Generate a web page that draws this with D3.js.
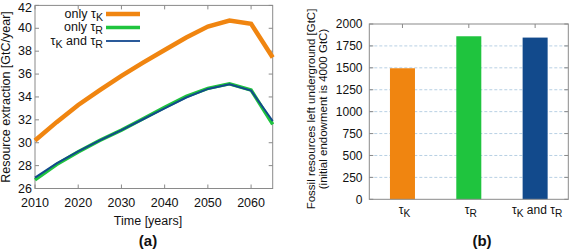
<!DOCTYPE html>
<html><head><meta charset="utf-8">
<script src="https://cdn.jsdelivr.net/npm/d3@7"></script>
<style>body{margin:0;background:#fff}svg{display:block;font-family:"Liberation Sans",Arial,sans-serif}</style>
</head><body><svg id="c" width="570" height="251"></svg>
<script>
const years = [2010,2015,2020,2025,2030,2035,2040,2045,2050,2055,2060,2065];
const onlyK = [30.2,31.8,33.3,34.6,35.85,37.0,38.1,39.2,40.15,40.68,40.4,37.45];
const onlyR = [26.75,28.1,29.2,30.2,31.1,32.1,33.1,34.05,34.75,35.15,34.6,31.6];
const bothKR = [26.95,28.2,29.25,30.2,31.1,32.05,33.0,33.95,34.7,35.1,34.55,31.9];
const yTicksA = [26,28,30,32,34,36,38,40,42];
const xTicksA = [2010,2020,2030,2040,2050,2060];
const barCats = ["K","R","KR"];
const barVals = [1495,1860,1845];
const yTicksB = [0,250,500,750,1000,1250,1500,1750,2000];
const colOrange = "#f08510", colGreen = "#1fc43e", colBlue = "#124a8c";

const svg = d3.select("#c");
const border = "#8a8a8a";

// ---------- Panel (a)
const xA = d3.scaleLinear().domain([2010,2065]).range([35,272.7]);
const yA = d3.scaleLinear().domain([26,42]).range([188.5,5.4]);
const gA = svg.append("g");
gA.append("rect").attr("x",xA(2010)).attr("y",yA(42)).attr("width",xA(2065)-xA(2010)).attr("height",yA(26)-yA(42))
  .attr("fill","none").attr("stroke",border).attr("stroke-width",1);
xTicksA.forEach(t=>{
  gA.append("line").attr("x1",xA(t)).attr("x2",xA(t)).attr("y1",yA(26)).attr("y2",yA(26)-4).attr("stroke",border);
  gA.append("line").attr("x1",xA(t)).attr("x2",xA(t)).attr("y1",yA(42)).attr("y2",yA(42)+4).attr("stroke",border);
  gA.append("text").attr("x",xA(t)).attr("y",206.5).attr("text-anchor","middle").attr("font-size",12.5).attr("fill","#111").text(t);
});
yTicksA.forEach(t=>{
  gA.append("line").attr("x1",xA(2010)).attr("x2",xA(2010)+4).attr("y1",yA(t)).attr("y2",yA(t)).attr("stroke",border);
  gA.append("line").attr("x1",xA(2065)).attr("x2",xA(2065)-4).attr("y1",yA(t)).attr("y2",yA(t)).attr("stroke",border);
  gA.append("text").attr("x",xA(2010)-3).attr("y",Math.max(yA(t)+4,11.5)).attr("text-anchor","end").attr("font-size",12.5).attr("fill","#111").text(t);
});
const line = d3.line().x((d,i)=>xA(years[i])).y(d=>yA(d));
gA.append("path").datum(onlyK).attr("d",line).attr("fill","none").attr("stroke",colOrange).attr("stroke-width",4.5);
gA.append("path").datum(onlyR).attr("d",line).attr("fill","none").attr("stroke",colGreen).attr("stroke-width",3.5);
gA.append("path").datum(bothKR).attr("d",line).attr("fill","none").attr("stroke",colBlue).attr("stroke-width",2);

function tauText(g, x, y, parts, anchor, size){
  const t = g.append("text").attr("x",x).attr("y",y).attr("text-anchor",anchor).attr("font-size",size).attr("fill","#111");
  parts.forEach(p=>{
    const s = t.append("tspan").text(p.t);
    if(p.sub){ s.attr("baseline-shift","-25%").attr("font-size",size*0.85); }
  });
  return t;
}
const leg = [
  {parts:[{t:"only τ"},{t:"K",sub:1}], c:colOrange, w:4.5},
  {parts:[{t:"only τ"},{t:"R",sub:1}], c:colGreen, w:3.5},
  {parts:[{t:"τ"},{t:"K",sub:1},{t:" and τ"},{t:"R",sub:1}], c:"#2a5a9a", w:2}
];
leg.forEach((l,i)=>{
  const y = 14 + i*13.5;
  tauText(gA, 103, y+3.5, l.parts, "end", 12.5);
  gA.append("line").attr("x1",106).attr("x2",140).attr("y1",y).attr("y2",y).attr("stroke",l.c).attr("stroke-width",l.w);
});
gA.append("text").attr("transform","translate(10,97) rotate(-90)").attr("text-anchor","middle").attr("font-size",12.5).attr("fill","#111").text("Resource extraction [GtC/year]");
gA.append("text").attr("x",148).attr("y",224.5).attr("text-anchor","middle").attr("font-size",12.5).attr("fill","#111").text("Time [years]");
gA.append("text").attr("x",148).attr("y",246).attr("text-anchor","middle").attr("font-size",15).attr("font-weight","bold").attr("fill","#111").text("(a)");

// ---------- Panel (b)
const xB = d3.scalePoint().domain(barCats).range([369.3,568.3]).padding(0.5);
const yB = d3.scaleLinear().domain([0,2000]).range([199.3,24]);
const gB = svg.append("g");
const bw = xB.step()*0.377;
yTicksB.forEach(t=>{
  if(t>0 && t<2000) gB.append("line").attr("x1",369.3).attr("x2",568.3).attr("y1",yB(t)).attr("y2",yB(t))
    .attr("stroke","#b8d0e4").attr("stroke-width",1).attr("stroke-dasharray","3,2");
  gB.append("line").attr("x1",568.3).attr("x2",564.3).attr("y1",yB(t)).attr("y2",yB(t)).attr("stroke",border);
  gB.append("line").attr("x1",369.3).attr("x2",373.3).attr("y1",yB(t)).attr("y2",yB(t)).attr("stroke",border);
  gB.append("text").attr("x",362.5).attr("y",yB(t)+4.3).attr("text-anchor","end").attr("font-size",12).attr("fill","#111").text(t);
});
const barCols = [colOrange,colGreen,colBlue];
gB.selectAll("rect.bar").data(barVals).join("rect").attr("class","bar")
  .attr("x",(d,i)=>xB(barCats[i])-bw/2).attr("width",bw)
  .attr("y",d=>yB(d)).attr("height",d=>yB(0)-yB(d)).attr("fill",(d,i)=>barCols[i]);
gB.append("rect").attr("x",369.3).attr("y",24).attr("width",199).attr("height",175.3).attr("fill","none").attr("stroke",border);
barCats.forEach(c=>{
  gB.append("line").attr("x1",xB(c)).attr("x2",xB(c)).attr("y1",24).attr("y2",28).attr("stroke",border);
});
const catParts = {
  K:[{t:"τ"},{t:"K",sub:1}],
  R:[{t:"τ"},{t:"R",sub:1}],
  KR:[{t:"τ"},{t:"K",sub:1},{t:" and τ"},{t:"R",sub:1}]
};
barCats.forEach(c=>{
  tauText(gB, xB(c)+2, 214, catParts[c], "middle", 12);
});
gB.append("text").attr("transform","translate(315,109) rotate(-90)").attr("text-anchor","middle").attr("font-size",11.5).attr("fill","#111").text("Fossil resources left underground [GtC]");
gB.append("text").attr("transform","translate(327,109) rotate(-90)").attr("text-anchor","middle").attr("font-size",11.5).attr("fill","#111").text("(initial endowment is 4000 GtC)");
gB.append("text").attr("x",482).attr("y",246).attr("text-anchor","middle").attr("font-size",15).attr("font-weight","bold").attr("fill","#111").text("(b)");
</script></body></html>
